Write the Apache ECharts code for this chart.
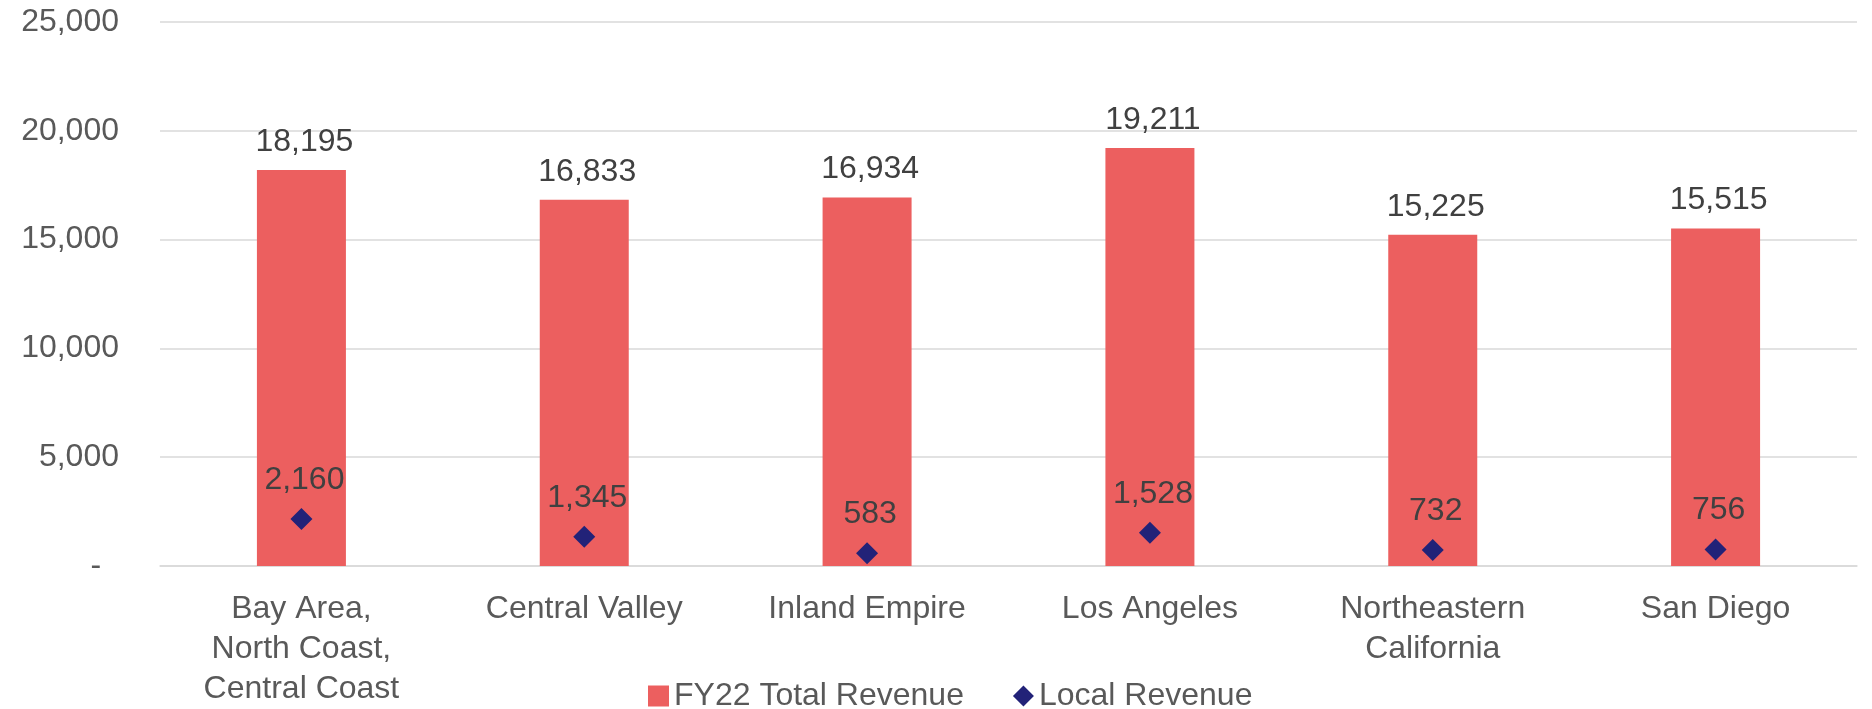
<!DOCTYPE html>
<html>
<head>
<meta charset="utf-8">
<script src="https://cdn.jsdelivr.net/npm/echarts@6/dist/echarts.min.js"></script>
<style>
    html, body { margin: 0; padding: 0; background: #fff; }
    #main { width: 1872px; height: 709px; }
</style>
</head>
<body>
<div id="main"></div>
<script>
var categories = ['Bay Area,\nNorth Coast,\nCentral Coast', 'Central Valley', 'Inland Empire', 'Los Angeles', 'Northeastern\nCalifornia', 'San Diego'];
var totalRevenue = [18195, 16833, 16934, 19211, 15225, 15515];
var localRevenue = [2160, 1345, 583, 1528, 732, 756];
var yTicks = [0, 5000, 10000, 15000, 20000, 25000];

var fontName = "'Liberation Sans', Arial, sans-serif";

function fmt(v) {
    return Number(v).toLocaleString('en-US');
}

var chart = echarts.init(document.getElementById('main'));

chart.setOption({
    animation: false,
    textStyle: { fontFamily: fontName },
    legend: {
        data: [
            { name: 'FY22 Total Revenue', icon: 'rect' },
            { name: 'Local Revenue', icon: 'diamond' }
        ],
        left: 643,
        top: 675,
        itemWidth: 21,
        itemHeight: 21,
        itemGap: 49,
        textStyle: { fontSize: 32, color: '#595959', fontFamily: fontName }
    },
    grid: {
        left: 160,
        right: 15,
        top: 22,
        bottom: 143
    },
    xAxis: {
        type: 'category',
        data: categories,
        axisLine: { show: true, lineStyle: { color: '#D9D9D9', width: 1.5 } },
        axisTick: { show: false },
        axisLabel: {
            fontSize: 32,
            color: '#595959',
            lineHeight: 40,
            margin: 23,
            interval: 0
        }
    },
    yAxis: {
        type: 'value',
        min: yTicks[0],
        max: yTicks[yTicks.length - 1],
        interval: 5000,
        axisLine: { show: false },
        axisTick: { show: false },
        splitLine: { lineStyle: { color: '#D9D9D9', width: 1.5 } },
        axisLabel: {
            fontSize: 32,
            color: '#595959',
            margin: 41,
            formatter: function (v) {
                return v === 0 ? '-  ' : fmt(v);
            }
        }
    },
    series: [
        {
            name: 'FY22 Total Revenue',
            type: 'bar',
            data: totalRevenue,
            barWidth: 89,
            itemStyle: { color: '#EC5F5F' },
            label: {
                show: true,
                position: 'top',
                distance: 12,
                offset: [3, 0],
                fontSize: 32,
                color: '#404040',
                formatter: function (p) { return fmt(p.value); }
            }
        },
        {
            name: 'Local Revenue',
            type: 'scatter',
            data: localRevenue,
            symbol: 'diamond',
            symbolSize: 22,
            itemStyle: { color: '#222278', opacity: 1 },
            label: {
                show: true,
                position: 'top',
                distance: 12,
                offset: [3, 0],
                fontSize: 32,
                color: '#404040',
                formatter: function (p) { return fmt(p.value); }
            }
        }
    ]
});
</script>
</body>
</html>
